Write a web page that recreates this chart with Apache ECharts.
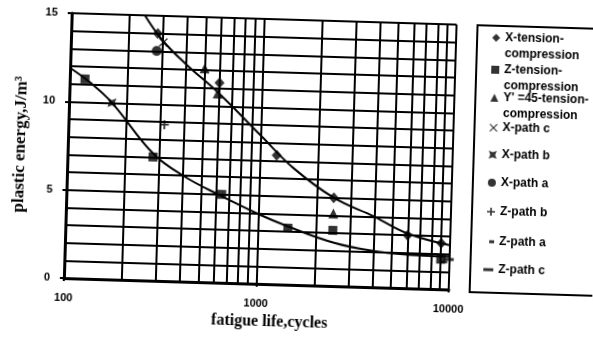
<!DOCTYPE html>
<html><head><meta charset="utf-8">
<script src="https://cdn.jsdelivr.net/npm/echarts@6/dist/echarts.min.js"></script>
<style>
html,body{margin:0;padding:0;background:#fff;overflow:hidden}
/* the reference is a slightly rotated scan */
#c{width:593px;height:339px;transform-origin:296px 170px;transform:translate(3px,6px) rotate(1.7deg)}
</style>
</head><body><div id="c"></div>
<script>
// ---------- data ----------
const xTickLabels = [100, 1000, 10000];
const yTickLabels = [0, 5, 10, 15];
const xMinorGrid = [200, 300, 400, 500, 600, 700, 800, 900, 2000, 3000, 4000, 5000, 6000, 7000, 8000, 9000];

const seriesNames = ['X-tension-compression', 'Z-tension-compression', "Y' =45-tension-compression",
  'X-path c', 'X-path b', 'X-path a', 'Z-path b', 'Z-path a', 'Z-path c'];

const xTensionCompression = [[282, 14.0], [600, 11.3], [1220, 7.3], [2450, 5.0], [6000, 3.0], [9000, 2.6]];
const zTensionCompression = [[120, 11.3], [278, 7.0], [640, 5.0], [1430, 3.2], [2450, 3.15], [9000, 1.7]];
const y45TensionCompression = [[500, 12.1], [590, 10.7], [2450, 4.1]];
const xPathC = [[302, 13.5]];
const xPathB = [[167, 10.0]];
const xPathA = [[280, 13.0]];
const zPathB = [[315, 8.85]];
const zPathA = [[9400, 1.55]];
const zPathC = [[9900, 1.7]];

const upperTrend = [[240, 15.0], [300, 13.6], [400, 12.3], [600, 10.7], [1000, 8.4], [1500, 6.6], [2450, 5.0], [4000, 4.0], [6000, 3.1], [10000, 2.5]];
const lowerTrend = [[100, 11.9], [128, 11.1], [167, 10.0], [278, 7.2], [400, 6.0], [640, 4.9], [1000, 3.95], [1430, 3.3], [2500, 2.45], [4000, 2.05], [6000, 1.9], [10000, 1.85]];

// ---------- styling ----------
const BLACK = '#000';
const SANS = '"Liberation Sans", Arial, sans-serif';
const SERIF = '"Liberation Serif", "Times New Roman", serif';

const symbols = {
  'X-tension-compression': { symbol: 'diamond', size: [10, 11] },
  'Z-tension-compression': { symbol: 'rect', size: 9 },
  "Y' =45-tension-compression": { symbol: 'triangle', size: 10 },
  'X-path c': { symbol: 'path://M1 0L5 4L9 0L10 1L6 5L10 9L9 10L5 6L1 10L0 9L4 5L0 1Z', size: 9 },
  'X-path b': { symbol: 'path://M0 0L5 2L10 0L8 5L10 10L5 8L0 10L2 5Z', size: 9 },
  'X-path a': { symbol: 'circle', size: 10 },
  'Z-path b': { symbol: 'path://M4 0H6V4H10V6H6V10H4V6H0V4H4Z', size: 9 },
  'Z-path a': { symbol: 'rect', size: [6, 2.5] },
  'Z-path c': { symbol: 'rect', size: [10, 3] }
};
const seriesData = {
  'X-tension-compression': xTensionCompression,
  'Z-tension-compression': zTensionCompression,
  "Y' =45-tension-compression": y45TensionCompression,
  'X-path c': xPathC,
  'X-path b': xPathB,
  'X-path a': xPathA,
  'Z-path b': zPathB,
  'Z-path a': zPathA,
  'Z-path c': zPathC
};

const series = [
  {
    type: 'line', name: 'upper trend', data: upperTrend, smooth: 0.4, showSymbol: false, silent: true,
    lineStyle: { color: BLACK, width: 2 }, z: 3,
    markLine: {
      silent: true, symbol: ['none', 'none'], label: { show: false }, animation: false,
      lineStyle: { color: BLACK, width: 2, type: 'solid' },
      data: xMinorGrid.map(v => ({ xAxis: v }))
    }
  },
  {
    type: 'line', name: 'lower trend', data: lowerTrend, smooth: 0.4, showSymbol: false, silent: true,
    lineStyle: { color: BLACK, width: 2 }, z: 3
  }
];
seriesNames.forEach(n => {
  series.push({
    type: 'scatter', name: n, data: seriesData[n], symbol: symbols[n].symbol,
    symbolSize: symbols[n].size, itemStyle: { color: BLACK }, z: 4
  });
});

// legends: one per entry so that the pitch matches the original box
const legendRows = [
  { name: seriesNames[0], label: ' \nX-tension-\ncompression', y: 26, two: true },
  { name: seriesNames[1], label: ' \nZ-tension-\ncompression', y: 58, two: true },
  { name: seriesNames[2], label: " \nY' =45-tension-\ncompression", y: 86, two: true },
  { name: seriesNames[3], label: 'X-path c', y: 116 },
  { name: seriesNames[4], label: 'X-path b', y: 143 },
  { name: seriesNames[5], label: 'X-path a', y: 171 },
  { name: seriesNames[6], label: 'Z-path b', y: 200 },
  { name: seriesNames[7], label: 'Z-path a', y: 230, w: 5, h: 3, icon: 'rect' },
  { name: seriesNames[8], label: 'Z-path c', y: 258, w: 10, h: 3, icon: 'rect' }
];
const legends = legendRows.map(r => {
  const w = r.w || 8, h = r.h || 8;
  const lh = r.two ? 16 : 14;
  const d = { name: r.name };
  if (r.icon) d.icon = r.icon;
  return {
    orient: 'vertical', left: 493 - w, top: r.two ? r.y - 24 : r.y - 7, padding: 0,
    itemWidth: w, itemHeight: h, itemGap: 0, selectedMode: false,
    symbolKeepAspect: true,
    data: [d], formatter: () => r.label,
    textStyle: { color: BLACK, fontFamily: SANS, fontWeight: 'bold', fontSize: 12, lineHeight: lh },
    itemStyle: { color: BLACK, borderWidth: 0 }
  };
});

const chart = echarts.init(document.getElementById('c'), null, { renderer: 'canvas' });
chart.setOption({
  animation: false,
  backgroundColor: '#fff',
  grid: { left: 63, right: 144, top: 14, bottom: 60, containLabel: false },
  xAxis: {
    type: 'log', logBase: 10, min: xTickLabels[0], max: xTickLabels[xTickLabels.length - 1],
    name: 'fatigue life,cycles', nameLocation: 'middle', nameGap: 29,
    nameTextStyle: { color: BLACK, fontFamily: SERIF, fontWeight: 'bold', fontSize: 16, padding: [0, 0, 0, 28] },
    axisLine: { show: true, lineStyle: { color: BLACK, width: 3 } },
    axisTick: { show: true, length: 3, lineStyle: { color: BLACK, width: 2 } },
    axisLabel: { color: BLACK, fontFamily: SANS, fontWeight: 'bold', fontSize: 11, margin: 14,
      formatter: v => (xTickLabels.indexOf(Math.round(v)) >= 0 ? String(Math.round(v)) : '') },
    splitLine: { show: true, lineStyle: { color: BLACK, width: 2 } }
  },
  yAxis: {
    type: 'value', min: yTickLabels[0], max: yTickLabels[yTickLabels.length - 1], interval: 5,
    name: 'plastic energy,J/m³', nameLocation: 'middle', nameGap: 39, nameRotate: 90,
    nameTextStyle: { color: BLACK, fontFamily: SERIF, fontWeight: 'bold', fontSize: 17 },
    axisLine: { show: true, lineStyle: { color: BLACK, width: 3 } },
    axisTick: { show: true, length: 4, lineStyle: { color: BLACK, width: 2 } },
    axisLabel: { color: BLACK, fontFamily: SANS, fontWeight: 'bold', fontSize: 11, margin: 14 },
    splitLine: { show: true, lineStyle: { color: BLACK, width: 2 } },
    minorTick: { show: false, splitNumber: 5 },
    minorSplitLine: { show: true, lineStyle: { color: BLACK, width: 2 } }
  },
  legend: legends,
  graphic: [{
    type: 'rect', silent: true,
    shape: { x: 470, y: 14, width: 140, height: 267 },
    style: { fill: 'none', stroke: BLACK, lineWidth: 2 }
  }],
  series: series
});
</script>
</body></html>
